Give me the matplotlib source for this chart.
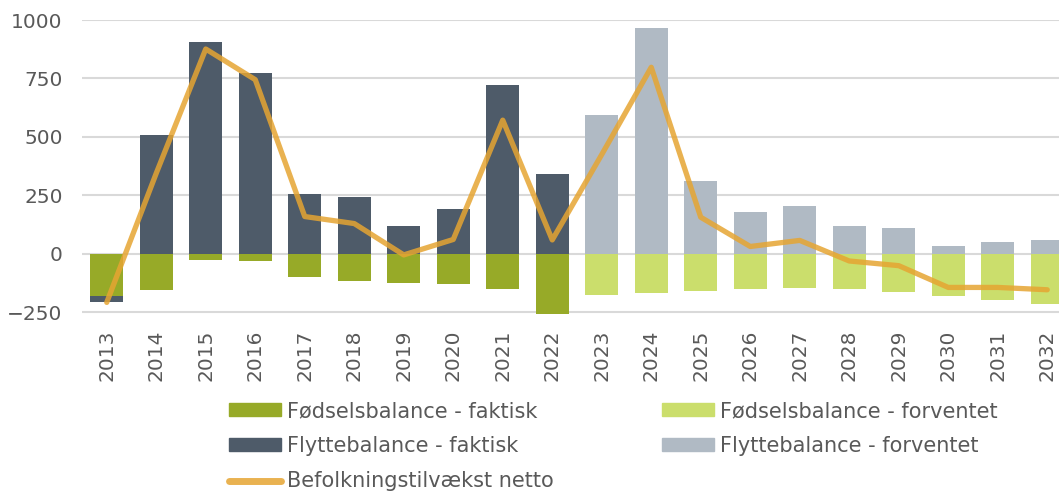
import numpy as np
import matplotlib
matplotlib.use('Agg')
import matplotlib.pyplot as plt
from matplotlib.patches import Patch
from matplotlib.lines import Line2D

years = [str(y) for y in range(2013, 2033)]

# faktisk 2013-2022, forventet 2023-2032
foedsel = [-178, -154, -27, -30, -98, -115, -125, -130, -151, -280,
           -175, -167, -157, -151, -147, -151, -164, -179, -195, -212]
flytte = [-27, 510, 904, 775, 258, 244, 121, 191, 722, 340,
          595, 964, 313, 181, 204, 120, 111, 34, 51, 58]
netto = [-207, 345, 876, 745, 160, 130, -4, 62, 572, 60,
         425, 798, 157, 32, 58, -30, -50, -143, -143, -153]

n_faktisk = 10

c_foed_fak = '#97AA28'
c_foed_forv = '#CBDE6C'
c_flyt_fak = '#4E5B69'
c_flyt_forv = '#B0BAC4'
c_line = '#E6A532'
txt = '#595959'

plt.rcParams['font.family'] = 'DejaVu Sans'
fs = 14.5
fs_leg = 15

fig = plt.figure(figsize=(10.59, 4.94), dpi=100)
ax = fig.add_axes([82 / 1059, 1 - 314.1 / 494, 990 / 1059, 294.1 / 494])

x = np.arange(len(years))
foedsel = np.array(foedsel)
flytte = np.array(flytte)

col_foed = [c_foed_fak if i < n_faktisk else c_foed_forv for i in x]
col_flyt = [c_flyt_fak if i < n_faktisk else c_flyt_forv for i in x]

w = 0.66
ax.bar(x, foedsel, w, color=col_foed, zorder=2)
# flyttebalance stables ovenpaa 0, eller under foedsel hvis negativ
bottom_flyt = np.where(flytte < 0, np.minimum(foedsel, 0), 0)
ax.bar(x, flytte, w, bottom=bottom_flyt, color=col_flyt, zorder=2)

ax.plot(x, netto, color=c_line, lw=3.8, alpha=0.85, solid_capstyle='round',
        solid_joinstyle='round', zorder=3)

ax.set_xlim(-0.5, 19.5)
ax.set_ylim(-257, 1000)
ax.set_yticks([-250, 0, 250, 500, 750, 1000])
ax.set_xticks(x)
ax.set_xticklabels(years, rotation=90)
ax.yaxis.grid(True, color='#D9D9D9', lw=1.5, zorder=0)
ax.set_axisbelow(True)
for s in ax.spines.values():
    s.set_visible(False)
ax.tick_params(axis='y', length=0, pad=14, labelsize=fs, labelcolor=txt)
ax.tick_params(axis='x', length=0, pad=11, labelsize=fs, labelcolor=txt)

h1 = [Patch(color=c_foed_fak), Patch(color=c_flyt_fak),
      Line2D([0], [0], color=c_line, lw=5, alpha=0.85, solid_capstyle='round')]
l1 = ['Fødselsbalance - faktisk', 'Flyttebalance - faktisk', 'Befolkningstilvækst netto']
h2 = [Patch(color=c_foed_forv), Patch(color=c_flyt_forv)]
l2 = ['Fødselsbalance - forventet', 'Flyttebalance - forventet']

kw = dict(frameon=False, loc='upper left', fontsize=fs_leg, labelcolor=txt,
          handlelength=2.5, handleheight=0.58, handletextpad=0.29,
          labelspacing=0.73, borderpad=0, borderaxespad=0)
fig.legend(h1, l1, bbox_to_anchor=(229 / 1059, 1 - 401 / 494), **kw)
fig.legend(h2, l2, bbox_to_anchor=(662 / 1059, 1 - 401 / 494), **kw)

fig.savefig('out.png', dpi=100)
